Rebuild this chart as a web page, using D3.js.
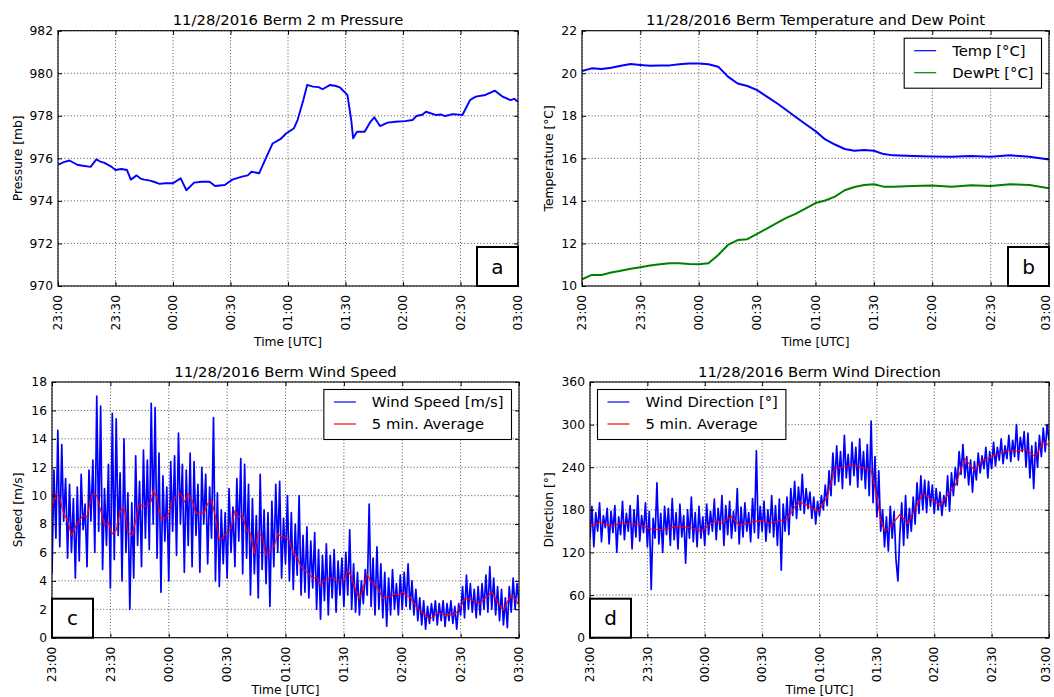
<!DOCTYPE html>
<html>
<head>
<meta charset="utf-8">
<script src="https://cdn.jsdelivr.net/npm/d3@7"></script>
<style>
  body { margin: 0; background: #fff; overflow: hidden; }
  svg text { font-family: "DejaVu Sans", sans-serif; fill: #000; }
</style>
</head>
<body>
<svg id="chart" width="1054" height="697"></svg>
<script>
// time is minutes after 23:00 UTC, 28 Nov 2016
const t0 = Date.UTC(2016, 10, 28, 23, 0);
const toDate = m => new Date(t0 + m * 60000);

// (a) pressure [mb]
const pressure = [[0,975.7],[3,975.82],[6,975.9],[10,975.7],[13,975.65],[17,975.6],[20,975.95],[22,975.85],[24,975.8],[28,975.6],[30,975.45],[33,975.5],[36,975.45],[38,975.0],
  [41,975.2],[43,975.05],[45,975.0],[48,974.95],[50,974.9],[53,974.8],[56,974.83],[60,974.83],[62,974.95],[64,975.06],[67,974.5],[71,974.86],[75,974.9],[79,974.9],
  [82,974.7],[87,974.75],[91,975.0],[96,975.14],[99,975.2],[101,975.37],[105,975.3],[108,975.92],[112,976.7],[116,976.9],[119,977.17],
  [123,977.4],[125,977.8],[128,978.74],[130,979.45],[133,979.37],[136,979.35],[138,979.25],[142,979.45],[145,979.4],[147,979.34],[151,978.98],[153,977.8],
  [154,976.94],[156,977.25],[160,977.25],[163,977.72],[165,977.93],[168,977.52],[172,977.68],[176,977.72],[181,977.75],[185,977.8],
  [187,977.99],[190,978.05],[192,978.19],[197,978.04],[200,978.06],[202,977.99],[206,978.08],[211,978.04],[215,978.74],[218,978.9],[223,978.98],[228,979.18],
  [232,978.9],[236,978.74],[238,978.8],[240,978.66]];

// (b) temperature and dew point [°C], sampled every 5 min then 10 min
const tbMinutes = [0,5,10,15,20,25,30,35,40,45,50,55,60,65,70,75,80,85,90,95,100,105,110,115,120,125,130,135,140,145,150,155,160,170,180,190,200,210,220,230,240];
const temp = [20.1,20.23,20.2,20.26,20.35,20.43,20.39,20.35,20.37,20.37,20.42,20.46,20.46,20.42,20.31,19.84,19.52,19.4,19.21,18.9,
  18.6,18.27,17.93,17.6,17.28,16.89,16.65,16.44,16.36,16.39,16.36,16.2,16.14,16.11,16.09,16.08,16.11,16.08,16.14,16.08,15.95];
const dewpt = [10.31,10.52,10.52,10.63,10.72,10.81,10.88,10.96,11.02,11.07,11.07,11.03,11.02,11.07,11.46,11.93,12.16,12.2,12.45,12.7,
  12.95,13.2,13.4,13.65,13.9,14.02,14.2,14.5,14.65,14.75,14.78,14.67,14.67,14.7,14.72,14.67,14.73,14.7,14.78,14.75,14.59];

// (c) wind speed [m/s], one value per minute
const windSpeed = [
  4.5,11.8,7.0,14.6,6.4,13.6,8.2,11.2,5.6,10.8,
  6.0,9.8,4.2,10.6,5.4,11.5,7.6,9.4,5.0,11.8,
  8.2,12.5,6.0,17.0,7.5,16.3,4.8,10.5,6.5,12.2,
  3.5,15.8,5.5,15.4,7.2,11.6,4.0,14.0,6.0,10.2,
  2.0,9.5,4.2,12.8,6.5,11.0,5.0,13.2,7.0,12.5,
  6.2,16.5,8.0,16.2,5.6,13.0,3.2,11.4,6.8,10.6,
  4.0,12.4,7.5,12.8,5.8,14.4,8.0,12.2,4.6,11.8,
  6.5,13.0,5.0,12.4,7.2,10.8,4.6,12.0,8.0,11.5,
  5.2,10.6,7.0,15.5,4.0,10.2,3.6,9.0,5.2,8.8,
  4.2,10.5,6.0,9.2,5.0,11.2,6.8,12.6,4.5,12.2,
  5.6,10.8,3.0,9.8,4.5,8.6,2.8,11.5,4.8,9.0,
  3.8,8.8,2.2,9.6,5.0,10.8,6.0,11.0,4.2,8.4,
  5.2,10.0,4.0,8.8,3.4,8.0,4.4,10.0,3.0,7.2,
  3.2,7.8,2.8,6.8,3.5,7.4,2.0,6.2,1.3,5.8,
  2.6,6.6,1.6,5.8,2.8,6.2,1.8,5.4,3.0,5.6,
  2.2,6.0,3.0,7.6,2.0,5.2,1.8,4.6,1.6,4.0,
  2.4,4.8,3.0,9.4,2.2,5.6,1.6,6.4,2.0,5.2,
  1.4,4.6,0.8,4.2,1.6,4.8,2.0,3.8,1.6,4.4,
  2.0,4.6,2.2,5.2,2.0,4.0,1.6,3.4,1.2,2.8,
  0.9,2.6,0.6,2.2,1.0,2.4,1.2,2.6,0.9,2.4,
  1.2,2.6,0.8,2.4,1.2,2.6,1.0,2.2,0.6,2.4,
  1.6,3.6,1.4,4.4,2.0,3.8,1.8,3.4,1.4,3.6,
  1.6,3.8,2.0,4.4,1.8,5.0,2.0,4.2,1.6,3.6,
  1.2,3.4,0.9,2.8,0.7,3.6,1.8,4.2,2.0,3.8,
  2.4];

const speedAvg = [[0,9.2],[2,10.14],[4,9.8],[6,8.73],[8,8.26],[10,7.2],[12,7.8],[14,8.26],[16,8.6],[18,8.5],[20,9.8],
  [21,10.14],[23,10.02],[25,8.97],[27,7.9],[29,8.1],[31,7.32],[33,7.56],[35,8.9],[37,9.2],[39,7.45],[41,7.2],[43,8.26],
  [45,9.44],[47,9.2],[49,9.32],[51,9.6],[52,10.38],[54,9.79],[56,8.38],[58,8.38],[60,8.73],[62,9.79],[64,9.95],[66,10.14],
  [68,9.55],[70,10.14],[72,9.67],[74,8.73],[76,8.85],[78,8.73],[80,9.44],[82,9.67],[84,8.5],[86,6.85],[88,7.09],[90,7.44],
  [92,7.68],[94,8.97],[96,8.5],[98,8.62],[100,7.56],[102,7.37],[104,5.92],[106,7.44],[108,7.09],[110,5.8],[112,6.15],[114,6.38],
  [116,7.32],[118,7.09],[120,7.09],[122,6.85],[124,5.92],[126,5.68],[128,4.98],[130,4.74],[132,4.51],[134,4.15],[136,4.27],
  [138,3.69],[140,4.04],[142,4.15],[144,4.23],[146,4.04],[148,4.08],[150,4.04],[152,4.74],[154,4.27],[156,3.33],[158,2.75],
  [160,3.57],[162,4.46],[164,3.92],[166,3.8],[168,3.33],[170,2.75],[172,2.86],[174,2.86],[176,3.1],[178,2.98],[180,3.22],
  [182,2.98],[184,2.86],[186,2.39],[188,2.04],[190,1.81],[192,1.57],[194,1.34],[196,1.46],[198,1.74],[200,1.69],[202,1.57],
  [204,1.64],[206,1.57],[208,1.81],[210,2.16],[212,2.75],[214,2.75],[216,2.63],[218,2.51],[220,2.39],[222,2.75],[224,2.91],
  [226,3.22],[228,2.75],[230,2.28],[232,1.92],[234,2.51],[236,2.98],[238,2.75],[240,2.28]];

// (d) wind direction [°], one value per minute
const windDir = [
  140,185,128,176,150,190,135,172,155,182,
  132,178,148,186,120,170,145,192,138,175,
  150,186,125,180,142,200,136,172,148,190,
  128,178,68,168,140,218,132,175,120,185,
  145,182,130,196,138,176,125,188,142,172,
  105,180,140,198,135,176,128,185,140,170,
  130,188,145,178,150,195,138,182,152,200,
  130,186,145,192,140,178,150,210,132,184,
  142,190,150,176,135,196,148,263,140,185,
  150,192,136,180,148,200,142,186,130,195,
  95,188,150,198,145,210,172,220,168,212,
  180,230,175,210,182,205,168,198,160,192,
  172,200,180,215,186,235,200,260,215,270,
  220,262,210,285,225,258,215,275,228,268,
  212,280,222,262,210,272,200,305,190,255,
  170,235,150,180,128,170,122,185,140,178,
  110,80,145,190,130,200,140,182,150,198,
  160,218,175,228,180,222,176,220,185,215,
  175,210,180,205,172,200,185,228,178,232,
  200,240,215,262,230,272,225,255,215,250,
  205,248,222,260,232,256,238,268,225,262,
  238,275,242,268,250,280,245,270,252,285,
  248,278,255,300,250,282,262,290,240,288,
  225,270,210,275,240,285,255,295,262,300,
  278];

const dirAvg = [[0,155.7],[5,162.8],[11,156.7],[16,161.4],[20,160.5],[26,159.5],[31,153.4],[36,152],[40,153.4],[45,156.7],
  [51,155.7],[55,153.4],[58,148.7],[62,158.1],[66,165.2],[69,161.4],[74,170.8],[78,158.1],[83,161.4],[89,165.2],[94,161],
  [99,165],[103,166.2],[107,184],[110,191],[115,184],[118,179.3],[120,179.3],[124,198],[128,238],[132,240.4],[137,242.8],
  [142,240],[147,235.8],[150,198],[152,165],[154,151],[157,155.7],[162,173.6],[166,160.5],[174,202.8],[183,186.4],
  [191,214.6],[196,252.2],[201,235.8],[205,249],[210,255.3],[215,260],[219,264],[223,262.8],[228,265],[233,254.6],
  [237,275.8],[240,271]];

const timeTicks = d3.range(0, 241, 30);

const svg = d3.select('#chart');
const fmt = d3.utcFormat('%H:%M');

function drawPanel(p) {
  const x = d3.scaleUtc().domain([toDate(0), toDate(240)]).range([p.left, p.right]);
  const y = d3.scaleLinear().domain(p.yDomain).range([p.bottom, p.top]);
  const g = svg.append('g');

  g.append('clipPath').attr('id', 'clip-' + p.key)
    .append('rect')
    .attr('x', p.left).attr('y', p.top)
    .attr('width', p.right - p.left).attr('height', p.bottom - p.top);

  // dotted grid
  const grid = g.append('g')
    .attr('stroke', '#222').attr('stroke-width', 0.8).attr('stroke-dasharray', '1,2.2');
  grid.selectAll('.gx').data(timeTicks).join('line')
    .attr('x1', d => x(toDate(d))).attr('x2', d => x(toDate(d)))
    .attr('y1', p.top).attr('y2', p.bottom);
  grid.selectAll('.gy').data(p.yTicks).join('line')
    .attr('x1', p.left).attr('x2', p.right)
    .attr('y1', d => y(d)).attr('y2', d => y(d));

  // series
  const line = d3.line().x(d => x(toDate(d[0]))).y(d => y(d[1]));
  const plot = g.append('g').attr('clip-path', `url(#clip-${p.key})`);
  p.series.forEach(s => {
    plot.append('path').datum(s.data)
      .attr('fill', 'none').attr('stroke', s.color)
      .attr('stroke-width', s.width).attr('stroke-linejoin', 'round')
      .attr('d', line);
  });

  // axes, ticks pointing inwards on all four sides
  const tv = timeTicks.map(toDate);
  const gx = g.append('g').attr('transform', `translate(0,${p.bottom})`)
    .call(d3.axisBottom(x).tickValues(tv).tickFormat(fmt).tickSizeInner(-4).tickSizeOuter(0));
  gx.select('.domain').remove();
  gx.attr('font-size', 12.3).attr('color', '#000');
  // labels at the page's right edge are nudged left so they stay inside
  gx.selectAll('text')
    .attr('transform', 'rotate(-90)').attr('text-anchor', 'end')
    .attr('x', -9).attr('y', 0)
    .attr('dy', d => x(d) > 1040 ? '0.08em' : '0.3em');

  const gt = g.append('g').attr('transform', `translate(0,${p.top})`)
    .call(d3.axisTop(x).tickValues(tv).tickFormat('').tickSizeInner(-4).tickSizeOuter(0));
  gt.select('.domain').remove();
  gt.attr('color', '#000');

  const gy = g.append('g').attr('transform', `translate(${p.left},0)`)
    .call(d3.axisLeft(y).tickValues(p.yTicks).tickSizeInner(-4).tickSizeOuter(0).tickPadding(5));
  gy.select('.domain').remove();
  gy.attr('font-size', 12.3).attr('color', '#000');

  const gr = g.append('g').attr('transform', `translate(${p.right},0)`)
    .call(d3.axisRight(y).tickValues(p.yTicks).tickFormat('').tickSizeInner(-4).tickSizeOuter(0));
  gr.select('.domain').remove();
  gr.attr('color', '#000');

  g.append('rect')
    .attr('x', p.left).attr('y', p.top)
    .attr('width', p.right - p.left).attr('height', p.bottom - p.top)
    .attr('fill', 'none').attr('stroke', '#000').attr('stroke-width', 1.1);

  // titles and labels
  const cx = (p.left + p.right) / 2;
  g.append('text').attr('x', cx).attr('y', p.top - 5.5)
    .attr('text-anchor', 'middle').attr('font-size', 14.8).text(p.title);
  g.append('text').attr('x', cx).attr('y', Math.min(p.bottom + 60, 694))
    .attr('text-anchor', 'middle').attr('font-size', 12.3).text('Time [UTC]');
  g.append('text')
    .attr('transform', `translate(${p.ylabelX},${(p.top + p.bottom) / 2}) rotate(-90)`)
    .attr('text-anchor', 'middle').attr('font-size', 12.3).text(p.ylabel);

  // legend
  if (p.legend) {
    const lg = g.append('g');
    const fs = 14.8;
    const labels = p.legend.map(d => lg.append('text').attr('font-size', fs).text(d.label));
    const tw = d3.max(labels, t => t.node().getComputedTextLength());
    const w = 10 + 22 + 16 + tw + 8, h = 50;
    const lx = p.legendSide === 'right' ? p.right - 7.5 - w : p.left + 7.5;
    const ly = p.top + 7.5;
    lg.insert('rect', 'text').attr('x', lx).attr('y', ly).attr('width', w).attr('height', h)
      .attr('fill', '#fff').attr('stroke', '#000').attr('stroke-width', 1.1);
    p.legend.forEach((d, i) => {
      const ry = ly + 12.5 + i * 22;
      lg.append('line').attr('x1', lx + 10).attr('x2', lx + 32).attr('y1', ry).attr('y2', ry)
        .attr('stroke', d.color).attr('stroke-width', 1.2);
      labels[i].attr('x', lx + 48).attr('y', ry + 5.2);
    });
  }

  // panel letter box
  const bw = 41, bh = 39;
  const bx = p.letterSide === 'right' ? p.right - bw : p.left;
  g.append('rect').attr('x', bx).attr('y', p.bottom - bh).attr('width', bw).attr('height', bh)
    .attr('fill', '#fff').attr('stroke', '#000').attr('stroke-width', 2);
  g.append('text').attr('x', bx + bw / 2).attr('y', p.bottom - bh / 2 + 7)
    .attr('text-anchor', 'middle').attr('font-size', 20).text(p.letter);
}

drawPanel({
  key: 'a', left: 58, right: 518, top: 30.7, bottom: 286,
  yDomain: [970, 982], yTicks: d3.range(970, 983, 2),
  title: '11/28/2016 Berm 2 m Pressure', ylabel: 'Pressure [mb]', ylabelX: 21.5,
  series: [{ data: pressure, color: '#0000ff', width: 1.9 }],
  letter: 'a', letterSide: 'right'
});

drawPanel({
  key: 'b', left: 582, right: 1049, top: 30.7, bottom: 286,
  yDomain: [10, 22], yTicks: d3.range(10, 23, 2),
  title: '11/28/2016 Berm Temperature and Dew Point', ylabel: 'Temperature [°C]', ylabelX: 553,
  series: [
    { data: d3.zip(tbMinutes, temp), color: '#0000ff', width: 2 },
    { data: d3.zip(tbMinutes, dewpt), color: '#008000', width: 2 }
  ],
  legend: [{ label: 'Temp [°C]', color: '#0000ff' }, { label: 'DewPt [°C]', color: '#008000' }],
  legendSide: 'right',
  letter: 'b', letterSide: 'right'
});

drawPanel({
  key: 'c', left: 52, right: 519, top: 382, bottom: 637.7,
  yDomain: [0, 18], yTicks: d3.range(0, 19, 2),
  title: '11/28/2016 Berm Wind Speed', ylabel: 'Speed [m/s]', ylabelX: 21.5,
  series: [
    { data: windSpeed.map((v, i) => [i, v]), color: '#0000ff', width: 1.7 },
    { data: speedAvg, color: '#ff0000', width: 1.1 }
  ],
  legend: [{ label: 'Wind Speed [m/s]', color: '#0000ff' }, { label: '5 min. Average', color: '#ff0000' }],
  legendSide: 'right',
  letter: 'c', letterSide: 'left'
});

drawPanel({
  key: 'd', left: 590, right: 1049, top: 382, bottom: 637.7,
  yDomain: [0, 360], yTicks: d3.range(0, 361, 60),
  title: '11/28/2016 Berm Wind Direction', ylabel: 'Direction [°]', ylabelX: 553,
  series: [
    { data: windDir.map((v, i) => [i, v]), color: '#0000ff', width: 1.7 },
    { data: dirAvg, color: '#ff0000', width: 1.1 }
  ],
  legend: [{ label: 'Wind Direction [°]', color: '#0000ff' }, { label: '5 min. Average', color: '#ff0000' }],
  legendSide: 'left',
  letter: 'd', letterSide: 'left'
});
</script>
</body>
</html>
